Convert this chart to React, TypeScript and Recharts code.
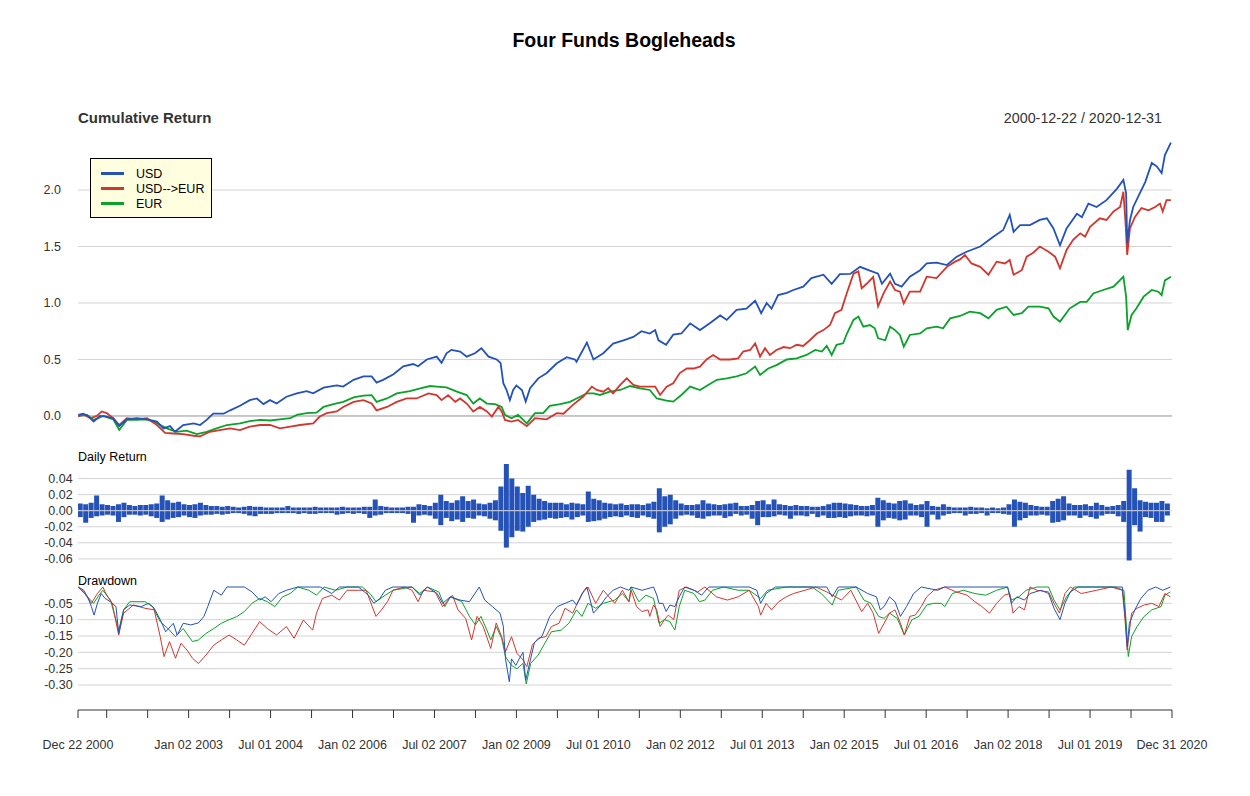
import React from 'react';
import { LineChart, Line, BarChart, Bar, XAxis, YAxis, CartesianGrid, ReferenceLine } from 'recharts';

// time axis in fractional years
const START = 2000.975;
const END = 2021.0;

const xTickYears = [
  2000.975, 2001.5, 2002.25, 2003, 2003.75, 2004.5, 2005.25, 2006, 2006.75, 2007.5,
  2008.25, 2009, 2009.75, 2010.5, 2011.25, 2012, 2012.75, 2013.5, 2014.25, 2015,
  2015.75, 2016.5, 2017.25, 2018, 2018.75, 2019.5, 2020.25, 2021.0,
];
const xTickLabels = [
  'Dec 22 2000', '', '', 'Jan 02 2003', '', 'Jul 01 2004', '', 'Jan 02 2006', '', 'Jul 02 2007',
  '', 'Jan 02 2009', '', 'Jul 01 2010', '', 'Jan 02 2012', '', 'Jul 01 2013', '', 'Jan 02 2015',
  '', 'Jul 01 2016', '', 'Jan 02 2018', '', 'Jul 01 2019', '', 'Dec 31 2020',
];

const cumTicks = [0, 0.5, 1, 1.5, 2];
const dailyTicks = [-0.06, -0.04, -0.02, 0, 0.02, 0.04];
const ddTicks = [-0.3, -0.25, -0.2, -0.15, -0.1, -0.05];

// Cumulative return, [year, value]
const usdCum: [number, number][] = [
  [2000.98, 0.01], [2001.07, 0.02], [2001.16, 0], [2001.26, -0.05], [2001.38, 0], [2001.49, -0.005],
  [2001.62, -0.02], [2001.73, -0.09], [2001.87, -0.03], [2002.05, -0.02], [2002.24, -0.03], [2002.42, -0.05],
  [2002.54, -0.11], [2002.66, -0.09], [2002.75, -0.14], [2002.9, -0.08], [2003.09, -0.065], [2003.21, -0.08],
  [2003.33, -0.035], [2003.45, 0.02], [2003.64, 0.02], [2003.76, 0.05], [2003.94, 0.09], [2004.12, 0.14],
  [2004.25, 0.155], [2004.37, 0.105], [2004.49, 0.14], [2004.61, 0.11], [2004.79, 0.17], [2004.98, 0.2],
  [2005.16, 0.22], [2005.28, 0.2], [2005.47, 0.25], [2005.71, 0.27], [2005.83, 0.26], [2006.02, 0.32],
  [2006.2, 0.35], [2006.35, 0.35], [2006.44, 0.295], [2006.56, 0.32], [2006.75, 0.37], [2006.93, 0.44],
  [2007.11, 0.46], [2007.2, 0.44], [2007.36, 0.5], [2007.54, 0.525], [2007.63, 0.47], [2007.72, 0.555],
  [2007.81, 0.585], [2007.97, 0.57], [2008.09, 0.525], [2008.24, 0.555],
  [2008.36, 0.6], [2008.49, 0.525], [2008.64, 0.5], [2008.71, 0.47], [2008.76, 0.29], [2008.82, 0.23],
  [2008.88, 0.14], [2008.94, 0.23], [2009.0, 0.27], [2009.1, 0.23], [2009.17, 0.127], [2009.25, 0.245],
  [2009.4, 0.333], [2009.55, 0.378], [2009.74, 0.466], [2009.92, 0.52], [2010.07, 0.5], [2010.1, 0.48],
  [2010.29, 0.65], [2010.41, 0.5], [2010.59, 0.555], [2010.77, 0.64], [2010.96, 0.67], [2011.14, 0.7],
  [2011.29, 0.75], [2011.44, 0.73], [2011.54, 0.76], [2011.6, 0.67], [2011.74, 0.63], [2011.87, 0.72],
  [2012.02, 0.73], [2012.18, 0.82], [2012.36, 0.76], [2012.54, 0.82], [2012.73, 0.89], [2012.85, 0.85],
  [2013.03, 0.94], [2013.21, 0.95], [2013.37, 1.02], [2013.48, 0.91], [2013.58, 1.0], [2013.67, 0.95],
  [2013.79, 1.07], [2013.95, 1.09], [2014.07, 1.115], [2014.25, 1.145], [2014.4, 1.22], [2014.62, 1.25],
  [2014.77, 1.17], [2014.92, 1.256],
  [2015.11, 1.257], [2015.29, 1.32], [2015.47, 1.286], [2015.62, 1.26], [2015.69, 1.17], [2015.84, 1.26],
  [2015.93, 1.17], [2016.05, 1.145], [2016.2, 1.233], [2016.39, 1.29], [2016.51, 1.35], [2016.69, 1.357],
  [2016.88, 1.336], [2017.06, 1.41], [2017.24, 1.454], [2017.49, 1.5], [2017.73, 1.587], [2017.91, 1.646],
  [2018.03, 1.78], [2018.1, 1.63], [2018.22, 1.69], [2018.4, 1.69], [2018.58, 1.735], [2018.71, 1.75],
  [2018.83, 1.66], [2018.95, 1.51], [2019.07, 1.66], [2019.26, 1.79], [2019.35, 1.76], [2019.47, 1.88],
  [2019.62, 1.85], [2019.8, 1.91], [2019.99, 2.01], [2020.11, 2.09], [2020.16, 1.97], [2020.18, 1.53],
  [2020.23, 1.73], [2020.29, 1.85], [2020.41, 1.97], [2020.51, 2.07], [2020.63, 2.24], [2020.72, 2.21],
  [2020.81, 2.15], [2020.87, 2.31], [2020.98, 2.42],
];

const usdEurCum: [number, number][] = [
  [2000.98, -0.005], [2001.07, 0.015], [2001.2, -0.02], [2001.32, 0], [2001.41, 0.04], [2001.5, 0.025],
  [2001.62, -0.02], [2001.73, -0.08], [2001.87, -0.02], [2002.05, -0.03], [2002.24, -0.02], [2002.42, -0.08],
  [2002.57, -0.15], [2002.72, -0.155], [2002.9, -0.16], [2003.09, -0.175], [2003.21, -0.18], [2003.39, -0.14],
  [2003.57, -0.125], [2003.76, -0.11], [2003.94, -0.125], [2004.12, -0.095], [2004.31, -0.08], [2004.49, -0.08],
  [2004.67, -0.11], [2004.86, -0.095], [2005.04, -0.08], [2005.28, -0.065], [2005.4, -0.005], [2005.53, 0.025],
  [2005.71, 0.04], [2005.83, 0.08], [2006.02, 0.125], [2006.2, 0.14], [2006.35, 0.11], [2006.44, 0.05],
  [2006.63, 0.08], [2006.81, 0.125], [2006.99, 0.155], [2007.17, 0.155], [2007.39, 0.2], [2007.54, 0.185],
  [2007.63, 0.14], [2007.75, 0.185], [2007.88, 0.125], [2007.97, 0.155], [2008.09, 0.11], [2008.21, 0.04],
  [2008.33, 0.08],
  [2008.46, 0.04], [2008.55, -0.005], [2008.67, 0.08], [2008.73, 0.04], [2008.79, -0.035], [2008.91, -0.05],
  [2009.03, -0.035], [2009.19, -0.09], [2009.34, -0.02], [2009.55, -0.03], [2009.74, 0.025], [2009.86, 0.02],
  [2010.04, 0.1], [2010.22, 0.17], [2010.38, 0.26], [2010.47, 0.23], [2010.59, 0.215], [2010.68, 0.245],
  [2010.77, 0.2], [2010.9, 0.275], [2011.02, 0.333], [2011.14, 0.275], [2011.26, 0.26], [2011.38, 0.26],
  [2011.54, 0.26], [2011.63, 0.186], [2011.75, 0.26], [2011.87, 0.29], [2011.99, 0.38], [2012.12, 0.42],
  [2012.24, 0.42], [2012.36, 0.437], [2012.48, 0.5], [2012.6, 0.54], [2012.73, 0.5], [2012.91, 0.5],
  [2013.06, 0.51], [2013.15, 0.57], [2013.28, 0.584], [2013.37, 0.643], [2013.46, 0.525], [2013.55, 0.6],
  [2013.64, 0.54], [2013.76, 0.584], [2013.89, 0.61], [2014.01, 0.6], [2014.13, 0.63], [2014.25, 0.62],
  [2014.37, 0.67], [2014.5, 0.73], [2014.62, 0.76], [2014.74, 0.805], [2014.83, 0.91], [2014.95, 0.94],
  [2015.05, 1.09], [2015.17, 1.26], [2015.26, 1.28], [2015.32, 1.13], [2015.41, 1.17], [2015.53, 1.23],
  [2015.62, 0.97], [2015.72, 1.085], [2015.84, 1.19], [2015.93, 1.115], [2016.02, 1.1], [2016.09, 0.997],
  [2016.2, 1.1], [2016.39, 1.1], [2016.51, 1.233], [2016.69, 1.22], [2016.88, 1.32], [2017.03, 1.366],
  [2017.12, 1.386], [2017.21, 1.425], [2017.33, 1.35], [2017.49, 1.32], [2017.64, 1.25], [2017.79, 1.366],
  [2017.94, 1.35], [2018.03, 1.38], [2018.1, 1.25], [2018.25, 1.29], [2018.34, 1.41], [2018.46, 1.445],
  [2018.58, 1.5], [2018.74, 1.454], [2018.86, 1.41], [2018.95, 1.307], [2019.07, 1.47], [2019.19, 1.56],
  [2019.32, 1.617], [2019.41, 1.587], [2019.5, 1.675], [2019.68, 1.75], [2019.8, 1.735], [2019.93, 1.81],
  [2020.05, 1.85], [2020.11, 1.985], [2020.15, 1.705], [2020.18, 1.425], [2020.23, 1.66], [2020.32, 1.76],
  [2020.44, 1.84], [2020.57, 1.82], [2020.69, 1.85], [2020.78, 1.88], [2020.83, 1.81], [2020.9, 1.91],
  [2020.98, 1.91],
];

const eurCum: [number, number][] = [
  [2000.98, 0], [2001.14, 0.01], [2001.26, -0.035], [2001.44, 0], [2001.62, -0.03], [2001.73, -0.124],
  [2001.87, -0.035], [2002.05, -0.035], [2002.24, -0.03], [2002.42, -0.065], [2002.6, -0.11], [2002.78, -0.14],
  [2002.96, -0.13], [2003.15, -0.16], [2003.33, -0.14], [2003.51, -0.11], [2003.7, -0.08], [2003.94, -0.065],
  [2004.12, -0.045], [2004.31, -0.035], [2004.49, -0.04], [2004.67, -0.03], [2004.86, -0.02], [2004.98, 0.01],
  [2005.16, 0.025], [2005.34, 0.03], [2005.47, 0.08], [2005.65, 0.105], [2005.83, 0.125], [2006.02, 0.165],
  [2006.2, 0.18], [2006.35, 0.185], [2006.44, 0.125], [2006.63, 0.155], [2006.81, 0.2], [2007.05, 0.22],
  [2007.24, 0.245], [2007.42, 0.265], [2007.54, 0.26], [2007.72, 0.253], [2007.91, 0.215], [2008.09, 0.185],
  [2008.21, 0.11], [2008.33, 0.155],
  [2008.46, 0.11], [2008.61, 0.105], [2008.73, 0.08], [2008.79, 0.01], [2008.91, -0.02], [2009.03, 0.01],
  [2009.19, -0.065], [2009.34, 0.025], [2009.49, 0.025], [2009.61, 0.09], [2009.8, 0.105], [2009.98, 0.125],
  [2010.1, 0.155], [2010.29, 0.2], [2010.41, 0.2], [2010.53, 0.186], [2010.71, 0.215], [2010.9, 0.23],
  [2011.08, 0.265], [2011.26, 0.245], [2011.44, 0.23], [2011.57, 0.155], [2011.75, 0.136], [2011.87, 0.127],
  [2012.02, 0.186], [2012.18, 0.26], [2012.36, 0.23], [2012.51, 0.274], [2012.67, 0.32], [2012.85, 0.333],
  [2013.03, 0.35], [2013.21, 0.378], [2013.37, 0.437], [2013.46, 0.363], [2013.61, 0.42], [2013.76, 0.45],
  [2013.95, 0.5], [2014.13, 0.51], [2014.31, 0.54], [2014.47, 0.584], [2014.59, 0.57], [2014.68, 0.62],
  [2014.77, 0.54], [2014.86, 0.63], [2014.98, 0.643],
  [2015.05, 0.73], [2015.17, 0.85], [2015.26, 0.88], [2015.35, 0.79], [2015.47, 0.805], [2015.56, 0.776],
  [2015.62, 0.687], [2015.75, 0.67], [2015.84, 0.79], [2015.93, 0.76], [2016.02, 0.717], [2016.09, 0.614],
  [2016.2, 0.717], [2016.39, 0.73], [2016.51, 0.776], [2016.69, 0.79], [2016.81, 0.776], [2016.94, 0.864],
  [2017.12, 0.885], [2017.3, 0.923], [2017.49, 0.91], [2017.64, 0.864], [2017.79, 0.94], [2017.97, 0.967],
  [2018.1, 0.894], [2018.25, 0.91], [2018.37, 0.967], [2018.58, 0.967], [2018.74, 0.953], [2018.83, 0.88],
  [2018.95, 0.835], [2019.13, 0.953], [2019.32, 1.01], [2019.44, 1.01], [2019.56, 1.085], [2019.74, 1.115],
  [2019.93, 1.145], [2020.11, 1.233], [2020.16, 1.056], [2020.19, 0.76], [2020.26, 0.894], [2020.35, 0.953],
  [2020.48, 1.056], [2020.63, 1.115], [2020.75, 1.1], [2020.81, 1.07], [2020.87, 1.2], [2020.98, 1.233],
];

// Daily return envelope (USD), one bucket every 0.1 year from 2001.02
const DAILY_START = 2001.02;
const DAILY_STEP = 0.1;
const dailyHi = [
  0.009, 0.008, 0.010, 0.019, 0.008, 0.007, 0.006, 0.008, 0.010, 0.007,
  0.006, 0.007, 0.007, 0.008, 0.009, 0.019, 0.013, 0.010, 0.011, 0.008,
  0.007, 0.008, 0.010, 0.007, 0.006, 0.006, 0.005, 0.006, 0.005, 0.004,
  0.005, 0.006, 0.005, 0.005, 0.004, 0.004, 0.004, 0.004, 0.006, 0.004,
  0.004, 0.004, 0.004, 0.005, 0.004, 0.004, 0.004, 0.004, 0.005, 0.004,
  0.004, 0.004, 0.005, 0.005, 0.014, 0.006, 0.005, 0.004, 0.004, 0.004,
  0.005, 0.005, 0.008, 0.007, 0.006, 0.010, 0.020, 0.012, 0.010, 0.013,
  0.018, 0.012, 0.014, 0.009, 0.008, 0.010, 0.013, 0.030, 0.058, 0.040,
  0.030, 0.022, 0.031, 0.020, 0.015, 0.012, 0.010, 0.010, 0.010, 0.008,
  0.010, 0.009, 0.008, 0.024, 0.015, 0.013, 0.010, 0.009, 0.008, 0.009,
  0.007, 0.008, 0.008, 0.007, 0.009, 0.011, 0.028, 0.018, 0.020, 0.013,
  0.009, 0.007, 0.007, 0.008, 0.013, 0.009, 0.008, 0.007, 0.008, 0.009,
  0.010, 0.006, 0.006, 0.007, 0.012, 0.013, 0.008, 0.014, 0.008, 0.007,
  0.006, 0.007, 0.006, 0.006, 0.005, 0.005, 0.006, 0.008, 0.010, 0.010,
  0.009, 0.008, 0.007, 0.006, 0.006, 0.007, 0.016, 0.013, 0.010, 0.009,
  0.012, 0.013, 0.009, 0.007, 0.008, 0.012, 0.006, 0.005, 0.008, 0.005,
  0.004, 0.004, 0.004, 0.005, 0.004, 0.004, 0.003, 0.004, 0.003, 0.004,
  0.008, 0.014, 0.011, 0.010, 0.007, 0.006, 0.005, 0.005, 0.012, 0.015,
  0.018, 0.009, 0.007, 0.007, 0.008, 0.006, 0.010, 0.007, 0.005, 0.006,
  0.007, 0.012, 0.051, 0.028, 0.013, 0.011, 0.010, 0.010, 0.012, 0.009,
];
const dailyLo = [
  -0.008, -0.015, -0.009, -0.007, -0.006, -0.005, -0.006, -0.014, -0.008, -0.005,
  -0.005, -0.006, -0.005, -0.007, -0.009, -0.014, -0.011, -0.009, -0.008, -0.006,
  -0.008, -0.009, -0.006, -0.005, -0.005, -0.004, -0.005, -0.004, -0.003, -0.003,
  -0.004, -0.006, -0.007, -0.004, -0.004, -0.004, -0.003, -0.003, -0.003, -0.003,
  -0.004, -0.003, -0.004, -0.004, -0.003, -0.003, -0.003, -0.005, -0.004, -0.003,
  -0.004, -0.003, -0.004, -0.009, -0.006, -0.005, -0.003, -0.003, -0.003, -0.003,
  -0.004, -0.015, -0.006, -0.005, -0.006, -0.010, -0.018, -0.009, -0.013, -0.011,
  -0.014, -0.009, -0.010, -0.006, -0.007, -0.010, -0.012, -0.025, -0.046, -0.033,
  -0.025, -0.026, -0.020, -0.014, -0.012, -0.011, -0.009, -0.010, -0.009, -0.008,
  -0.011, -0.008, -0.006, -0.014, -0.013, -0.012, -0.010, -0.008, -0.007, -0.008,
  -0.006, -0.008, -0.009, -0.006, -0.008, -0.010, -0.027, -0.020, -0.017, -0.010,
  -0.006, -0.005, -0.006, -0.009, -0.010, -0.007, -0.006, -0.006, -0.009, -0.007,
  -0.004, -0.006, -0.005, -0.010, -0.018, -0.008, -0.008, -0.007, -0.005, -0.006,
  -0.010, -0.006, -0.006, -0.007, -0.004, -0.008, -0.006, -0.009, -0.009, -0.008,
  -0.009, -0.007, -0.006, -0.006, -0.007, -0.006, -0.020, -0.012, -0.009, -0.010,
  -0.012, -0.011, -0.006, -0.006, -0.008, -0.020, -0.005, -0.011, -0.006, -0.004,
  -0.003, -0.003, -0.006, -0.004, -0.004, -0.003, -0.006, -0.003, -0.003, -0.004,
  -0.005, -0.020, -0.012, -0.009, -0.006, -0.006, -0.005, -0.006, -0.015, -0.014,
  -0.012, -0.006, -0.006, -0.009, -0.006, -0.008, -0.010, -0.006, -0.004, -0.004,
  -0.007, -0.014, -0.062, -0.018, -0.026, -0.008, -0.009, -0.014, -0.014, -0.006,
];

// Drawdown, [year, value]
const usdDd: [number, number][] = [
  [2000.98, 0], [2001.08, -0.01], [2001.15, -0.03], [2001.22, -0.06], [2001.27, -0.086], [2001.33, -0.05],
  [2001.4, -0.02], [2001.47, -0.035], [2001.57, -0.045], [2001.67, -0.06], [2001.72, -0.142], [2001.81, -0.07],
  [2001.92, -0.055], [2002.13, -0.06], [2002.27, -0.05], [2002.37, -0.065], [2002.48, -0.1], [2002.58, -0.137],
  [2002.72, -0.111], [2002.79, -0.147], [2002.9, -0.111], [2003.04, -0.116], [2003.18, -0.11], [2003.28, -0.09],
  [2003.35, -0.06], [2003.46, -0.01], [2003.6, -0.025], [2003.7, 0], [2004.02, 0], [2004.16, -0.015],
  [2004.3, -0.04], [2004.4, -0.03], [2004.51, -0.045], [2004.65, -0.02], [2004.79, -0.01], [2005.0, 0],
  [2005.41, 0], [2005.62, -0.02], [2005.76, 0], [2006.11, 0], [2006.29, -0.025], [2006.39, -0.05],
  [2006.5, -0.035], [2006.6, -0.01], [2006.74, 0], [2007.09, 0], [2007.23, -0.025], [2007.37, 0],
  [2007.55, -0.02], [2007.65, -0.05], [2007.79, -0.03], [2007.97, -0.04], [2008.14, -0.045], [2008.32, 0],
  [2008.42, -0.04], [2008.56, -0.06], [2008.7, -0.08], [2008.76, -0.12], [2008.8, -0.22], [2008.87, -0.29],
  [2008.91, -0.22], [2008.99, -0.24], [2009.05, -0.22], [2009.12, -0.2], [2009.17, -0.285], [2009.26, -0.22],
  [2009.33, -0.17], [2009.47, -0.15], [2009.61, -0.09], [2009.75, -0.06], [2009.89, -0.05], [2010.03, -0.04],
  [2010.1, -0.055], [2010.24, -0.01], [2010.29, 0], [2010.41, -0.08], [2010.52, -0.06], [2010.65, -0.03],
  [2010.77, -0.01], [2010.9, 0], [2011.06, -0.01],
  [2011.1, 0], [2011.3, -0.01], [2011.51, 0], [2011.57, -0.025], [2011.61, -0.05], [2011.68, -0.05],
  [2011.74, -0.075], [2011.81, -0.055], [2011.9, -0.06], [2011.98, -0.03], [2012.08, 0], [2012.25, -0.01],
  [2012.39, -0.025], [2012.52, 0], [2013.26, 0], [2013.4, -0.01], [2013.47, -0.05], [2013.57, -0.02],
  [2013.74, 0], [2014.68, 0], [2014.78, -0.03], [2014.89, 0], [2015.22, 0], [2015.43, -0.02],
  [2015.59, -0.03], [2015.66, -0.07], [2015.73, -0.06], [2015.83, -0.03], [2015.93, -0.045], [2016.03, -0.09],
  [2016.14, -0.06], [2016.27, -0.02], [2016.41, 0], [2016.71, -0.01], [2016.84, 0], [2017.99, 0],
  [2018.06, -0.05], [2018.16, -0.03], [2018.3, -0.04], [2018.4, -0.02], [2018.6, -0.01], [2018.74, -0.02],
  [2018.84, -0.065], [2018.95, -0.1], [2019.04, -0.05], [2019.14, -0.015], [2019.28, 0], [2020.09, 0],
  [2020.14, -0.08], [2020.18, -0.183], [2020.22, -0.111], [2020.32, -0.07], [2020.43, -0.035], [2020.56, -0.01],
  [2020.7, 0], [2020.83, -0.01], [2020.97, 0],
];

const usdEurDd: [number, number][] = [
  [2000.98, 0], [2001.08, -0.015], [2001.22, -0.05], [2001.33, -0.02], [2001.43, 0], [2001.5, -0.025],
  [2001.6, -0.05], [2001.72, -0.147], [2001.81, -0.08], [2001.99, -0.055], [2002.2, -0.065], [2002.37, -0.07],
  [2002.48, -0.152], [2002.55, -0.213], [2002.65, -0.167], [2002.76, -0.218], [2002.86, -0.172], [2002.97, -0.193],
  [2003.07, -0.218], [2003.18, -0.234], [2003.32, -0.208], [2003.46, -0.178], [2003.6, -0.162], [2003.74, -0.147],
  [2003.88, -0.162], [2004.02, -0.178], [2004.16, -0.142], [2004.3, -0.106], [2004.44, -0.127], [2004.61, -0.147],
  [2004.79, -0.121], [2004.93, -0.157], [2005.1, -0.101], [2005.27, -0.132], [2005.34, -0.08], [2005.45, -0.035],
  [2005.62, -0.025], [2005.76, -0.04], [2005.9, -0.01], [2006.11, -0.01], [2006.25, -0.01], [2006.36, -0.06],
  [2006.43, -0.09], [2006.53, -0.07], [2006.64, -0.045], [2006.74, -0.01], [2006.95, 0], [2007.09, -0.01],
  [2007.2, -0.045], [2007.3, -0.01], [2007.51, -0.015], [2007.65, -0.06], [2007.83, -0.025], [2007.93, -0.07],
  [2008.07, -0.096], [2008.18, -0.162], [2008.28, -0.09], [2008.39, -0.12], [2008.53, -0.188], [2008.63, -0.11],
  [2008.73, -0.152], [2008.8, -0.198], [2008.91, -0.152], [2009.01, -0.203], [2009.12, -0.223], [2009.19, -0.244],
  [2009.29, -0.178], [2009.4, -0.157], [2009.54, -0.152], [2009.64, -0.121], [2009.78, -0.111], [2009.89, -0.065],
  [2010.03, -0.08], [2010.2, -0.02], [2010.31, 0], [2010.45, -0.05], [2010.59, -0.01], [2010.8, -0.05],
  [2010.94, -0.01], [2011.06, -0.045],
  [2011.1, -0.01], [2011.2, -0.06], [2011.3, -0.075], [2011.41, -0.07], [2011.44, -0.09], [2011.51, -0.055],
  [2011.57, -0.07], [2011.63, -0.121], [2011.71, -0.1], [2011.78, -0.086], [2011.88, -0.1], [2011.98, -0.01],
  [2012.11, 0], [2012.32, -0.015], [2012.45, 0], [2012.66, -0.03], [2012.86, -0.04], [2013.06, -0.03],
  [2013.26, -0.01], [2013.43, -0.06], [2013.47, -0.086], [2013.57, -0.05], [2013.67, -0.07], [2013.8, -0.045],
  [2013.94, -0.03], [2014.07, -0.02], [2014.28, -0.01], [2014.48, 0], [2014.68, -0.015], [2014.95, -0.04],
  [2015.12, -0.01], [2015.32, -0.075], [2015.43, -0.05], [2015.53, -0.08], [2015.63, -0.142], [2015.73, -0.111],
  [2015.83, -0.08], [2015.93, -0.07], [2016.03, -0.111], [2016.1, -0.147], [2016.2, -0.09], [2016.3, -0.086],
  [2016.41, -0.06], [2016.51, -0.03], [2016.64, -0.01], [2016.84, 0], [2017.05, -0.015], [2017.25, -0.025],
  [2017.39, -0.045], [2017.52, -0.06], [2017.66, -0.08], [2017.79, -0.05], [2017.93, -0.025], [2018.03, -0.02],
  [2018.09, -0.08], [2018.2, -0.06], [2018.3, -0.07], [2018.4, 0], [2018.53, -0.01], [2018.74, -0.015],
  [2018.84, -0.05], [2018.94, -0.08], [2019.04, -0.02], [2019.14, 0], [2019.34, -0.02], [2019.62, -0.01],
  [2019.89, 0], [2020.09, -0.01], [2020.14, -0.1], [2020.18, -0.193], [2020.26, -0.08], [2020.36, -0.065],
  [2020.49, -0.055], [2020.63, -0.05], [2020.76, -0.06], [2020.87, -0.02], [2020.97, -0.03],
];

const eurDd: [number, number][] = [
  [2000.98, 0], [2001.15, -0.03], [2001.26, -0.05], [2001.36, -0.025], [2001.43, -0.01], [2001.57, -0.04],
  [2001.72, -0.132], [2001.81, -0.07], [2001.92, -0.045], [2002.2, -0.045], [2002.34, -0.06], [2002.48, -0.106],
  [2002.62, -0.127], [2002.76, -0.152], [2002.9, -0.127], [2003.07, -0.167], [2003.18, -0.162], [2003.32, -0.142],
  [2003.46, -0.127], [2003.6, -0.111], [2003.74, -0.1], [2003.88, -0.091], [2004.02, -0.075], [2004.16, -0.05],
  [2004.3, -0.035], [2004.44, -0.045], [2004.58, -0.06], [2004.72, -0.03], [2004.86, -0.02], [2005.0, 0],
  [2005.2, -0.01], [2005.34, -0.025], [2005.48, 0], [2005.69, -0.01], [2005.9, 0], [2006.18, 0],
  [2006.32, -0.02], [2006.43, -0.045], [2006.6, -0.025], [2006.74, -0.01], [2007.09, 0], [2007.23, -0.02],
  [2007.37, 0], [2007.58, -0.015], [2007.69, -0.06], [2007.79, -0.03], [2008.0, -0.045], [2008.14, -0.09],
  [2008.25, -0.116], [2008.35, -0.09], [2008.46, -0.132], [2008.53, -0.162], [2008.63, -0.121], [2008.73, -0.157],
  [2008.8, -0.213], [2008.91, -0.24], [2009.01, -0.25], [2009.12, -0.234], [2009.18, -0.297], [2009.26, -0.234],
  [2009.4, -0.208], [2009.5, -0.178], [2009.64, -0.137], [2009.82, -0.132], [2009.96, -0.111], [2010.1, -0.07],
  [2010.2, -0.09], [2010.31, -0.05], [2010.45, -0.065], [2010.59, -0.05], [2010.8, -0.04], [2010.94, -0.02],
  [2011.06, -0.045],
  [2011.1, 0], [2011.24, -0.045], [2011.37, -0.025], [2011.51, -0.035], [2011.61, -0.111], [2011.71, -0.1],
  [2011.81, -0.106], [2011.9, -0.132], [2011.98, -0.06], [2012.08, -0.01], [2012.25, -0.02], [2012.35, -0.045],
  [2012.45, -0.04], [2012.59, -0.01], [2012.79, 0], [2013.06, -0.01], [2013.26, -0.01], [2013.47, -0.035],
  [2013.6, -0.01], [2013.94, 0], [2014.41, 0], [2014.58, -0.02], [2014.78, -0.055], [2014.89, -0.01],
  [2015.22, 0], [2015.36, -0.04], [2015.49, -0.05], [2015.63, -0.09], [2015.73, -0.096], [2015.83, -0.08],
  [2015.97, -0.096], [2016.1, -0.147], [2016.24, -0.1], [2016.37, -0.09], [2016.51, -0.055], [2016.64, -0.05],
  [2016.78, -0.05], [2016.84, -0.06], [2016.98, -0.02], [2017.18, -0.01], [2017.39, -0.02], [2017.59, -0.025],
  [2017.79, -0.01], [2017.99, 0], [2018.06, -0.04], [2018.2, -0.03], [2018.33, -0.01], [2018.53, 0],
  [2018.74, 0], [2018.84, -0.04], [2018.95, -0.07], [2019.07, -0.03], [2019.21, 0], [2019.95, 0],
  [2020.12, -0.01], [2020.17, -0.132], [2020.2, -0.213], [2020.26, -0.152], [2020.36, -0.121], [2020.49, -0.09],
  [2020.63, -0.07], [2020.8, -0.06], [2020.87, -0.025], [2020.97, -0.015],
];

const BLUE = '#2452b8';
const RED = '#d2372f';
const GREEN = '#0aa22a';
const GRID = '#d3d3d3';
const FONT = '"Liberation Sans", Arial, sans-serif';

const toPts = (a: [number, number][]) => a.map(([x, y]) => ({ x, y }));
const dailyData = dailyHi.map((hi, i) => ({
  x: Math.round((DAILY_START + i * DAILY_STEP) * 1000) / 1000,
  r: [dailyLo[i], hi],
}));
const axisSpan = [{ x: START }, { x: END }];

const labelFor = (v: number) => {
  const i = xTickYears.findIndex((t) => Math.abs(t - v) < 1e-6);
  return i >= 0 ? xTickLabels[i] : '';
};

const tickStyle = { fontSize: 12.5, fill: '#333333', fontFamily: FONT };

const hiddenX = (
  <XAxis type="number" dataKey="x" domain={[START, END]} ticks={xTickYears} height={0}
    tick={false} axisLine={false} tickLine={false} allowDataOverflow />
);

export default function App() {
  return (
    <div style={{ position: 'absolute', left: 0, top: 0, width: 1250, height: 796, background: '#fff', fontFamily: FONT }}>
      {/* Cumulative return */}
      <div style={{ position: 'absolute', left: 0, top: 130 }}>
        <LineChart width={1250} height={320} margin={{ top: 12, right: 78, bottom: 12, left: 0 }}>
          <CartesianGrid stroke={GRID} syncWithTicks />
          {hiddenX}
          <YAxis type="number" domain={[-0.195, 2.425]} ticks={cumTicks} interval={0} width={78} tickSize={0} tickMargin={17}
            axisLine={false} tickLine={false} tick={tickStyle} tickFormatter={(v: number) => v.toFixed(1)} />
          <ReferenceLine y={0} stroke="#a6a6a6" />
          <Line data={toPts(eurCum)} dataKey="y" stroke={GREEN} strokeWidth={1.8} dot={false} isAnimationActive={false} />
          <Line data={toPts(usdEurCum)} dataKey="y" stroke={RED} strokeWidth={1.8} dot={false} isAnimationActive={false} />
          <Line data={toPts(usdCum)} dataKey="y" stroke={BLUE} strokeWidth={1.8} dot={false} isAnimationActive={false} />
        </LineChart>
      </div>

      {/* Daily return */}
      <div style={{ position: 'absolute', left: 0, top: 450 }}>
        <BarChart width={1250} height={125} data={dailyData} margin={{ top: 13, right: 78, bottom: 13, left: 0 }} barCategoryGap={0}>
          <CartesianGrid stroke={GRID} syncWithTicks />
          {hiddenX}
          <YAxis type="number" domain={[-0.0639, 0.0594]} ticks={dailyTicks} interval={0} width={78} tickSize={0} tickMargin={5.3}
            axisLine={false} tickLine={false} tick={tickStyle} tickFormatter={(v: number) => v.toFixed(2)} />
          <Bar dataKey="r" fill={BLUE} barSize={5} isAnimationActive={false} />
          <ReferenceLine y={0} stroke="#dcdcdc" />
        </BarChart>
      </div>

      {/* Drawdown */}
      <div style={{ position: 'absolute', left: 0, top: 575 }}>
        <LineChart width={1250} height={125} margin={{ top: 12, right: 78, bottom: 14, left: 0 }}>
          <CartesianGrid stroke={GRID} syncWithTicks />
          {hiddenX}
          <YAxis type="number" domain={[-0.303, 0]} ticks={ddTicks} interval={0} width={78} tickSize={0} tickMargin={5.3}
            axisLine={false} tickLine={false} tick={tickStyle} tickFormatter={(v: number) => v.toFixed(2)} />
          <Line data={toPts(eurDd)} dataKey="y" stroke={GREEN} strokeWidth={1} dot={false} isAnimationActive={false} />
          <Line data={toPts(usdEurDd)} dataKey="y" stroke={RED} strokeWidth={1} dot={false} isAnimationActive={false} />
          <Line data={toPts(usdDd)} dataKey="y" stroke={BLUE} strokeWidth={1} dot={false} isAnimationActive={false} />
        </LineChart>
      </div>

      {/* Date axis */}
      <div style={{ position: 'absolute', left: 0, top: 700 }}>
        <LineChart width={1250} height={60} data={axisSpan} margin={{ top: 0, right: 78, bottom: 0, left: 78 }}>
          <XAxis type="number" dataKey="x" domain={[START, END]} ticks={xTickYears} interval={0} height={50}
            tickSize={8} tickMargin={22} stroke="#333333" tick={tickStyle} tickFormatter={labelFor} />
          <YAxis hide domain={[0, 1]} />
        </LineChart>
      </div>

      {/* Titles and legend */}
      <svg width={1250} height={796} style={{ position: 'absolute', left: 0, top: 0, pointerEvents: 'none' }}>
        <text x={624} y={47} textAnchor="middle" fontSize={19.5} fontWeight="bold" fill="#000">Four Funds Bogleheads</text>
        <text x={78} y={123} fontSize={15} fontWeight="bold" fill="#333333">Cumulative Return</text>
        <text x={1162} y={123} textAnchor="end" fontSize={14.3} fill="#333333">2000-12-22 / 2020-12-31</text>
        <text x={78} y={461} fontSize={12.5} fill="#000">Daily Return</text>
        <text x={78} y={585} fontSize={12.5} fill="#000">Drawdown</text>
        <rect x={90.5} y={158.5} width={121} height={59} fill="#FFFFE0" stroke="#000" />
        <line x1={101} x2={124} y1={173.5} y2={173.5} stroke={BLUE} strokeWidth={3} />
        <line x1={101} x2={124} y1={188.5} y2={188.5} stroke={RED} strokeWidth={3} />
        <line x1={101} x2={124} y1={203.5} y2={203.5} stroke={GREEN} strokeWidth={3} />
        <text x={136} y={178} fontSize={12.5} fill="#000">USD</text>
        <text x={136} y={193} fontSize={12.5} fill="#000">USD--&gt;EUR</text>
        <text x={136} y={208} fontSize={12.5} fill="#000">EUR</text>
      </svg>
    </div>
  );
}
